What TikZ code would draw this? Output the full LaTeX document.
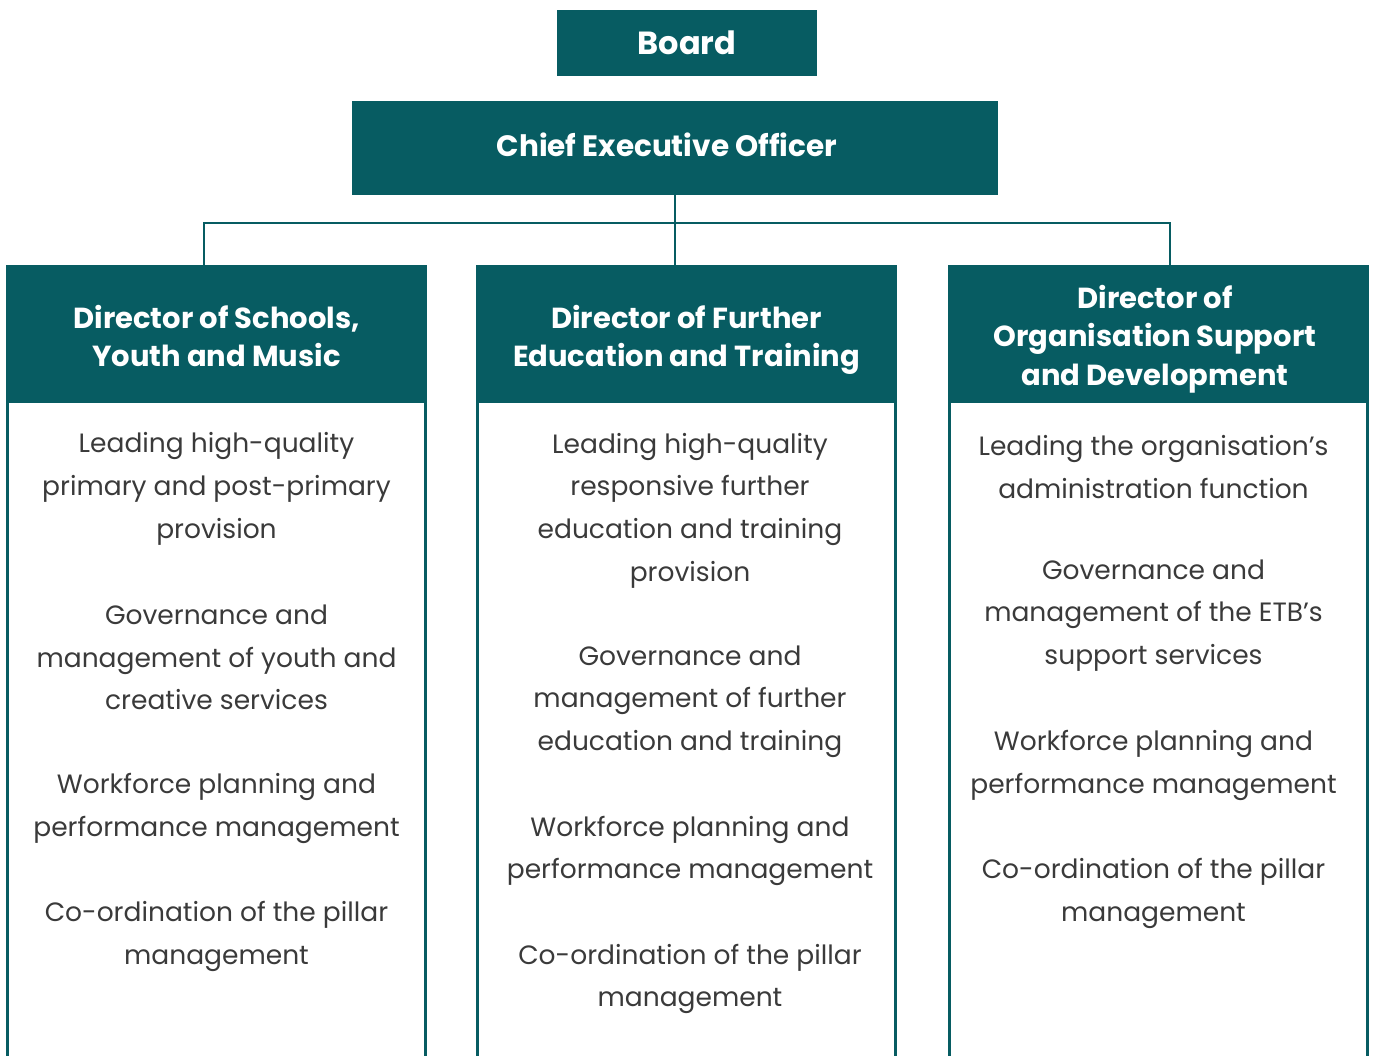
\documentclass[tikz,border=0pt]{standalone}
\usepackage{fontspec}
\setmainfont{Poppins}
\definecolor{etbteal}{HTML}{075C62}
\definecolor{bodytext}{HTML}{3A3A3A}
\begin{document}
\begin{tikzpicture}[x=1pt,y=-1pt,
  box/.style={fill=etbteal, draw=none, text=white, font=\bfseries, align=center, inner sep=0pt},
  hdr/.style={box, minimum width=421pt, minimum height=138pt, font=\bfseries\fontsize{29}{38.5}\selectfont},
  conn/.style={draw=etbteal, line width=2.6pt},
  side/.style={draw=etbteal, line width=2.8pt},
  para/.style={align=center, text=bodytext, inner sep=0pt, font=\fontsize{26.5}{42.7}\selectfont}]
\useasboundingbox (0,0) rectangle (1375,1056);

\node[box, minimum width=260pt, minimum height=66pt, font=\bfseries\fontsize{32}{38}\selectfont] (board) at (687,43) {Board};
\node[box, minimum width=646pt, minimum height=94pt, font=\bfseries\fontsize{29.5}{36}\selectfont] (ceo) at (675,148) {};
\node[text=white, font=\bfseries\fontsize{29.5}{36}\selectfont, inner sep=0pt] (ceot) at (667,145) {Chief Executive Officer};

\node[hdr] (h1) at (216.5,334) {};
\node[hdr] (h2) at (686.5,334) {};
\node[hdr] (h3) at (1158.5,334) {};
\node[box, fill=none, font=\bfseries\fontsize{29}{38.5}\selectfont] (t1) at (216.5,336) {Director of Schools,\\Youth and Music};
\node[box, fill=none, font=\bfseries\fontsize{29}{38.5}\selectfont] (t2) at (686.5,340) {Director of Further\\Education and Training};
\node[box, fill=none, font=\bfseries\fontsize{29}{38.5}\selectfont] (t3) at (1155,339) {Director of\\Organisation Support\\and Development};

% connectors
\coordinate (bus) at (675,223);
\draw[conn] (ceo.south) -- (bus) -- (bus |- h2.north);
\draw[conn] ([xshift=-12.5pt]h1.north) |- (bus) -| ([xshift=11.5pt]h3.north);

% column sides
\foreach \h in {h1,h2,h3}{
  \draw[side] ([xshift=2pt]\h.south west) -- ([xshift=2pt]\h.south west |- 0,1060);
  \draw[side] ([xshift=-2pt]\h.south east) -- ([xshift=-2pt]\h.south east |- 0,1060);
}

% column 1
\node[para] (a1) at (216.5,489) {Leading high-quality\\primary and post-primary\\provision};
\node[para] (a2) at (216.5,657.5) {Governance and\\management of youth and\\creative services};
\node[para] (a3) at (216.5,808.5) {Workforce planning and\\performance management};
\node[para] (a4) at (216.5,936.5) {Co-ordination of the pillar\\management};

% column 2
\node[para] (b1) at (690,510.5) {Leading high-quality\\responsive further\\education and training\\provision};
\node[para] (b2) at (690,701.5) {Governance and\\management of further\\education and training};
\node[para] (b3) at (690,851) {Workforce planning and\\performance management};
\node[para] (b4) at (690,979) {Co-ordination of the pillar\\management};

% column 3
\node[para] (c1) at (1153.5,467) {Leading the organisation’s\\administration function};
\node[para] (c2) at (1153.5,615.5) {Governance and\\management of the ETB’s\\support services};
\node[para] (c3) at (1153.5,765.5) {Workforce planning and\\performance management};
\node[para] (c4) at (1153.5,893.5) {Co-ordination of the pillar\\management};
\end{tikzpicture}
\end{document}
